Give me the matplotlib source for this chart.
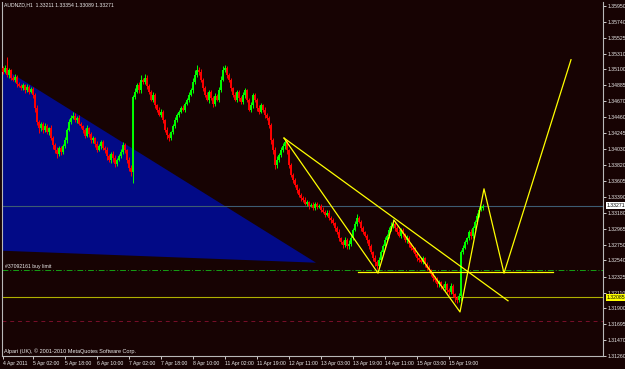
import matplotlib
matplotlib.use('Agg')
import matplotlib.pyplot as plt
from matplotlib.patches import Polygon

# ---------------- data ----------------
symbol_header = "AUDNZD,H1  1.33211 1.33354 1.33089 1.33271"
first_open = 1.3512
closes = [
    1.3507, 1.3512, 1.3503, 1.3509, 1.3499, 1.3496, 1.3500, 1.3490, 1.3488, 1.3485,
    1.3489, 1.3482, 1.3487, 1.3480, 1.3484, 1.3476, 1.3458, 1.3440, 1.3431, 1.3437,
    1.3429, 1.3434, 1.3426, 1.3431, 1.3418, 1.3409, 1.3402, 1.3397, 1.3405, 1.3399,
    1.3407, 1.3415, 1.3429, 1.3440, 1.3445, 1.3448, 1.3442, 1.3445, 1.3437, 1.3434,
    1.3429, 1.3421, 1.3431, 1.3423, 1.3415, 1.3418, 1.3410, 1.3402, 1.3407, 1.3413,
    1.3405, 1.3402, 1.3394, 1.3389, 1.3397, 1.3391, 1.3383, 1.3389, 1.3394, 1.3399,
    1.3409, 1.3402, 1.3389, 1.3378, 1.3373, 1.3473, 1.3480, 1.3489, 1.3482, 1.3496,
    1.3493, 1.3499, 1.3488, 1.3480, 1.3469, 1.3476, 1.3462, 1.3456, 1.3449, 1.3453,
    1.3442, 1.3429, 1.3422, 1.3418, 1.3426, 1.3434, 1.3442, 1.3449, 1.3453, 1.3458,
    1.3456, 1.3464, 1.3469, 1.3476, 1.3482, 1.3493, 1.3503, 1.3509, 1.3507, 1.3496,
    1.3485, 1.3476, 1.3469, 1.3480, 1.3472, 1.3464, 1.3474, 1.3469, 1.3482, 1.3496,
    1.3509, 1.3512, 1.3503, 1.3496, 1.3485, 1.3476, 1.3469, 1.3480, 1.3472, 1.3466,
    1.3476, 1.3482, 1.3469, 1.3456, 1.3462, 1.3476, 1.3469, 1.3458, 1.3453, 1.3462,
    1.3456, 1.3449, 1.3445, 1.3436, 1.3415, 1.3402, 1.3382, 1.3389, 1.3395, 1.3402,
    1.3407, 1.3413, 1.3402, 1.3382, 1.3369, 1.3362, 1.3355, 1.3348, 1.3342, 1.3338,
    1.3335, 1.3330, 1.3332, 1.3327, 1.3328, 1.3324, 1.3330, 1.3326, 1.3327, 1.3322,
    1.3319, 1.3315, 1.3318, 1.3311, 1.3308, 1.3304, 1.3297, 1.3292, 1.3284, 1.3279,
    1.3275, 1.3281, 1.3273, 1.3276, 1.3284, 1.3295, 1.3303, 1.3311, 1.3306, 1.3297,
    1.3292, 1.3287, 1.3281, 1.3273, 1.3265, 1.3257, 1.3252, 1.3247, 1.3255, 1.3265,
    1.3273, 1.3281, 1.3287, 1.3295, 1.3300, 1.3303, 1.3297, 1.3292, 1.3287, 1.3295,
    1.3289, 1.3281, 1.3284, 1.3276, 1.3271, 1.3268, 1.3263, 1.3257, 1.3255, 1.3252,
    1.3257, 1.3249, 1.3244, 1.3241, 1.3236, 1.3231, 1.3228, 1.3222, 1.3225, 1.3220,
    1.3217, 1.3222, 1.3214, 1.3212, 1.3220, 1.3209, 1.3204, 1.3201, 1.3206, 1.3265,
    1.3271, 1.3279, 1.3284, 1.3292, 1.3287, 1.3297, 1.3306, 1.3314, 1.3322, 1.3324,
    1.33271,
]
# wick lengths above / below the candle body, in pips
upper_wick_pips = [
    3, 4, 15, 3, 2, 3, 4, 2, 3, 2,   3, 2, 4, 2, 3, 2, 3, 4, 2, 3,
    2, 4, 3, 2, 5, 3, 2, 4, 3, 2,   3, 4, 2, 3, 4, 5, 3, 2, 4, 3,
    2, 3, 4, 2, 3, 3, 2, 4, 3, 2,   3, 2, 4, 3, 2, 3, 4, 2, 3, 5,
    4, 3, 2, 3, 4, 3, 5, 3, 4, 6,   3, 5, 4, 2, 3, 4, 3, 2, 3, 4,
    3, 2, 4, 3, 2, 3, 4, 3, 2, 3,   4, 2, 3, 4, 3, 5, 6, 7, 4, 3,
    2, 3, 4, 3, 2, 3, 4, 3, 4, 5,   5, 4, 3, 2, 3, 2, 4, 3, 2, 3,
    4, 3, 2, 3, 4, 3, 2, 3, 4, 3,   2, 3, 2, 3, 2, 3, 4, 5, 3, 4,
    5, 4, 3, 2, 3, 2, 3, 2, 3, 2,   3, 4, 3, 2, 3, 4, 3, 2, 3, 2,
    3, 2, 4, 3, 2, 3, 2, 3, 4, 2,   3, 4, 3, 5, 4, 3, 4, 5, 3, 2,
    3, 2, 3, 2, 3, 2, 4, 3, 4, 3,   3, 4, 3, 4, 5, 6, 4, 3, 4, 3,
    3, 2, 4, 3, 2, 3, 4, 3, 2, 4,   3, 2, 3, 4, 2, 3, 2, 4, 3, 2,
    3, 4, 2, 3, 4, 3, 2, 3, 4, 3,   4, 3, 2, 3, 4, 3, 2, 3, 4, 3,
    3,
]
lower_wick_pips = [
    3, 2, 3, 4, 3, 2, 3, 4, 2, 3,   2, 3, 2, 3, 2, 4, 5, 4, 6, 3,
    4, 3, 2, 4, 3, 5, 4, 6, 3, 4,   3, 2, 3, 2, 3, 2, 3, 4, 2, 3,
    4, 3, 2, 3, 4, 3, 4, 3, 2, 3,   3, 4, 5, 3, 4, 5, 4, 3, 2, 3,
    3, 4, 5, 4, 6, 15, 3, 2, 4, 3,  2, 3, 4, 3, 2, 3, 4, 3, 2, 3,
    4, 3, 5, 4, 3, 2, 3, 2, 3, 2,   2, 3, 2, 3, 2, 3, 2, 3, 4, 3,
    4, 3, 2, 4, 3, 4, 3, 2, 3, 2,   2, 3, 4, 3, 4, 3, 2, 3, 4, 3,
    3, 4, 3, 2, 3, 4, 3, 4, 3, 2,   3, 4, 3, 4, 5, 6, 5, 4, 3, 2,
    3, 4, 5, 4, 3, 4, 3, 4, 3, 4,   3, 2, 3, 4, 2, 3, 2, 3, 2, 3,
    2, 3, 2, 3, 4, 3, 4, 3, 4, 3,   4, 3, 4, 3, 2, 3, 2, 3, 2, 3,
    3, 2, 3, 4, 3, 4, 5, 4, 3, 2,   2, 3, 2, 3, 2, 3, 4, 3, 2, 3,
    3, 2, 3, 4, 3, 2, 3, 4, 3, 2,   3, 4, 3, 2, 3, 4, 3, 4, 3, 4,
    3, 4, 3, 4, 3, 4, 5, 4, 3, 6,   3, 2, 3, 2, 4, 3, 2, 3, 2, 2,
    2,
]

x_tick_pos = [0, 15, 31, 47, 63, 79, 95, 111, 127, 143, 159, 175, 191, 207, 223]
x_tick_labels = ["4 Apr 2011", "5 Apr 02:00", "5 Apr 18:00", "6 Apr 10:00", "7 Apr 02:00",
                 "7 Apr 18:00", "8 Apr 10:00", "11 Apr 02:00", "11 Apr 19:00", "12 Apr 11:00",
                 "13 Apr 03:00", "13 Apr 19:00", "14 Apr 11:00", "15 Apr 03:00", "15 Apr 19:00"]
y_tick_vals = [1.35950, 1.35740, 1.35525, 1.35310, 1.35100, 1.34885, 1.34670, 1.34460,
               1.34245, 1.34030, 1.33820, 1.33605, 1.33390, 1.33180, 1.32965, 1.32750,
               1.32540, 1.32325, 1.32110, 1.31900, 1.31695, 1.31470, 1.31260]

bid_price = 1.33271
buy_limit_price = 1.3241
buy_limit_label = "#37092161 buy limit"
level_price = 1.3205
level_label = "1.32085"
stop_price = 1.3173

triangle_bars = [0, 0, 156.5]
triangle_prices = [1.3512, 1.3267, 1.3251]

zigzag_bars = [140.5, 187.5, 195.5, 228.5, 240.5, 250.5, 284]
zigzag_prices = [1.3418, 1.3237, 1.3308, 1.3185, 1.3350, 1.3237, 1.3523]

trend_bars = [140.5, 252.5]
trend_prices = [1.3418, 1.3200]

hline_bars = [177.5, 275]
hline_price = 1.3238

copyright_text = "Alpari (UK), \u00a9 2001-2010 MetaQuotes Software Corp."

# ---------------- style ----------------
plt.rcParams['font.family'] = ['Liberation Sans', 'DejaVu Sans']
BG = '#170303'
FG = '#ececec'
BULL = '#00ff00'
BEAR = '#ff0000'
YEL = '#ffff00'
FS = 3.7
PIP = 0.0001

W, H = 625, 369
fig = plt.figure(figsize=(W / 100, H / 100), dpi=100, facecolor=BG)
ax = fig.add_axes([2 / W, 1 - 356 / H, 601 / W, 354 / H])
ax.set_facecolor(BG)
ax.set_xlim(-0.5, 300)
ax.set_ylim(1.31260, 1.36003)

# triangle
tri = Polygon(list(zip(triangle_bars, triangle_prices)), closed=True,
              facecolor='#020a86', edgecolor='none', zorder=1)
ax.add_patch(tri)

# horizontal levels
ax.axhline(bid_price, color='#3d5c72', lw=0.8, zorder=2)
ax.axhline(buy_limit_price, color='#14a014', lw=0.7, ls=(0, (6, 2, 1, 2)), zorder=2)
ax.axhline(level_price, color='#b0b000', lw=0.8, zorder=2)
ax.axhline(stop_price, color='#7a0f2a', lw=0.7, ls=(0, (4, 4)), zorder=2)

# candles
opens = [first_open] + closes[:-1]
for i, (o, c) in enumerate(zip(opens, closes)):
    col = BULL if c >= o else BEAR
    lo, hi = min(o, c), max(o, c)
    ax.vlines(i, lo - lower_wick_pips[i] * PIP, hi + upper_wick_pips[i] * PIP,
              color=col, lw=0.7, zorder=3)
    if hi - lo < 0.00008:
        hi = lo + 0.00008
    ax.vlines(i, lo, hi, color=col, lw=1.4, zorder=3)

# yellow drawings
ax.plot(zigzag_bars, zigzag_prices, color=YEL, lw=0.9, zorder=4)
ax.plot(trend_bars, trend_prices, color=YEL, lw=0.9, zorder=4)
ax.plot(hline_bars, [hline_price, hline_price], color=YEL, lw=0.9, zorder=4)

# axes styling
ax.spines['top'].set_visible(False)
for s in ['left', 'bottom', 'right']:
    ax.spines[s].set_color('#b8b8b8')
    ax.spines[s].set_linewidth(0.8)

ax.yaxis.tick_right()
ax.set_yticks(y_tick_vals)
ax.set_yticklabels([f"{v:.5f}" for v in y_tick_vals])
ax.tick_params(axis='y', colors=FG, labelsize=FS, length=2.5, width=0.6, pad=1.0, labelcolor=FG)
ax.set_xticks(x_tick_pos)
ax.set_xticklabels(x_tick_labels, ha='left')
ax.tick_params(axis='x', colors=FG, labelsize=FS, length=2.5, width=0.6, pad=1.0, labelcolor=FG)

# price boxes on axis
ax.text(1.006, bid_price, f"{bid_price:.5f}", transform=ax.get_yaxis_transform(),
        fontsize=FS, color='#000000', va='center', ha='left',
        bbox=dict(boxstyle='square,pad=0.2', facecolor='#ffffff', edgecolor='none'), zorder=10,
        clip_on=False)
ax.text(1.006, level_price, level_label, transform=ax.get_yaxis_transform(),
        fontsize=FS, color='#000000', va='center', ha='left',
        bbox=dict(boxstyle='square,pad=0.2', facecolor='#ffff00', edgecolor='none'), zorder=10,
        clip_on=False)

# texts
ax.text(1, buy_limit_price + 0.0001, buy_limit_label, fontsize=FS, color=FG,
        va='bottom', ha='left', zorder=5)
fig.text(4 / W, 1 - 5 / H, symbol_header, fontsize=FS, color=FG, va='center', ha='left')
fig.text(4 / W, 1 - 351 / H, copyright_text, fontsize=4.0, color=FG, va='center', ha='left')

fig.savefig('out.png', dpi=100, facecolor=BG)
